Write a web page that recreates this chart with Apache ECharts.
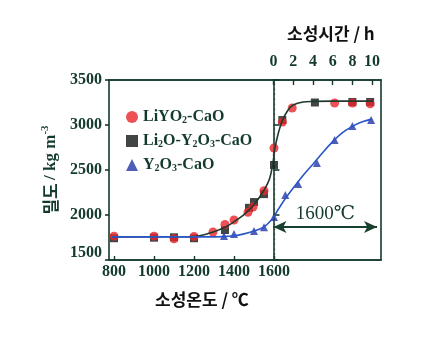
<!DOCTYPE html>
<html>
<head>
<meta charset="utf-8">
<script src="https://cdn.jsdelivr.net/npm/echarts@6/dist/echarts.min.js"></script>
<style>
  html, body { margin: 0; padding: 0; background: #ffffff; }
  #chart { width: 425px; height: 347px; }
</style>
</head>
<body>
<div id="chart"></div>
<script>
// Sintering density: first against temperature (bottom axis, °C),
// then against holding time at 1600 °C (top axis, h).

const tempTicks = [800, 1000, 1200, 1400, 1600];
const hourTicks = [0, 2, 4, 6, 8, 10];
const seriesNames = ['LiYO2-CaO', 'Li2O-Y2O3-CaO', 'Y2O3-CaO'];

// Measured points, temperature part [°C, kg/m3]
const liyoTemp = [[800, 1765], [1000, 1765], [1100, 1735], [1200, 1760], [1295, 1811], [1355, 1895], [1400, 1944], [1470, 2030], [1495, 2089], [1550, 2270], [1600, 2744]];
const li2oTemp = [[800, 1742], [1000, 1748], [1100, 1752], [1200, 1742], [1355, 1833], [1475, 2080], [1500, 2144], [1550, 2232], [1600, 2556]];
const y2o3Temp = [[1350, 1767], [1400, 1790], [1500, 1822], [1550, 1865], [1600, 1978]];

// Measured points, time part at 1600 °C [h, kg/m3]
const liyoHour = [[0.9, 3033], [1.9, 3189], [6.2, 3244], [8.0, 3244], [9.8, 3236]];
const li2oHour = [[0.9, 3055], [4.2, 3250], [8.0, 3256], [9.8, 3256]];
const y2o3Hour = [[1.2, 2222], [2.5, 2344], [4.4, 2578], [6.2, 2833], [8.0, 2989], [9.9, 3055]];

// Fitted trend lines
const fitDarkTemp = [[790, 1757], [1200, 1760], [1300, 1815], [1360, 1870], [1400, 1925], [1450, 2005], [1500, 2115], [1550, 2275], [1580, 2420], [1600, 2660]];
const fitDarkHour = [[0, 2660], [0.4, 2870], [0.9, 3050], [1.5, 3170], [2, 3222], [3, 3256], [4, 3262], [6, 3265], [10.1, 3265]];
const fitBlueTemp = [[790, 1757], [1300, 1757], [1400, 1770], [1450, 1790], [1500, 1822], [1550, 1868], [1600, 1975]];
const fitBlueHour = [[0, 1975], [1, 2150], [2, 2300], [3, 2440], [4, 2565], [5, 2695], [6, 2815], [7, 2915], [8, 2985], [9, 3035], [10, 3068]];

// Arrow marking the 1600 °C hold
const holdArrow = [[0, 1867], [10.5, 1867]];

const ink = '#133a2d';
const red = '#e8262b';
const dark = '#121815';
const blue = '#2236a8';
const serif = '"Liberation Serif", "DejaVu Serif", serif';
const kfont = '"Noto Sans CJK KR", "Noto Sans", sans-serif';

const sub = s => s.replace(/(\d)/g, '{s|$1}');
const plain = v => String(v);

const chart = echarts.init(document.getElementById('chart'), null, { renderer: 'canvas' });

chart.setOption({
  backgroundColor: '#ffffff',
  animation: false,
  grid: {
    left: 109, right: 44, top: 80, bottom: 87,
    show: true, borderColor: ink, borderWidth: 1.6, backgroundColor: 'transparent'
  },
  legend: {
    orient: 'vertical',
    left: 121, top: 104,
    itemWidth: 12, itemHeight: 12, itemGap: 8,
    data: [
      { name: seriesNames[0], icon: 'circle' },
      { name: seriesNames[1], icon: 'rect' },
      { name: seriesNames[2], icon: 'triangle' }
    ],
    formatter: name => sub(name),
    textStyle: {
      fontFamily: serif, fontWeight: 'bold', fontSize: 16, color: ink,
      rich: { s: { fontFamily: serif, fontWeight: 'bold', fontSize: 10, color: ink, padding: [6, 0, 0, 0] } }
    }
  },
  xAxis: [
    {
      type: 'value', position: 'bottom', min: 775, max: 2135,
      axisLine: { show: true, lineStyle: { color: ink, width: 1.6 } },
      axisTick: { show: true, inside: true, length: 4, customValues: tempTicks, lineStyle: { color: ink, width: 1.4 } },
      axisLabel: { customValues: tempTicks, formatter: plain, margin: 4, fontFamily: serif, fontWeight: 'bold', fontSize: 16, color: ink },
      splitLine: { show: false }
    },
    {
      type: 'value', position: 'top', min: -16.67, max: 10.9,
      axisLine: { show: true, lineStyle: { color: ink, width: 1.6 } },
      axisTick: { show: true, inside: true, length: 5, customValues: hourTicks, lineStyle: { color: ink, width: 1.4 } },
      axisLabel: { customValues: hourTicks, formatter: plain, margin: 10, fontFamily: serif, fontWeight: 'bold', fontSize: 16, color: ink },
      splitLine: { show: false }
    }
  ],
  yAxis: [
    {
      type: 'value', min: 1500, max: 3500, interval: 500, position: 'left',
      axisLine: { show: true, lineStyle: { color: ink, width: 1.6 } },
      axisTick: { show: true, inside: true, length: 6, lineStyle: { color: ink, width: 1.6 } },
      axisLabel: {
        margin: 7, fontFamily: serif, fontWeight: 'bold', fontSize: 16, color: ink,
        formatter: v => v === 1500 ? '{lo|1500}' : String(v),
        rich: { lo: { fontFamily: serif, fontWeight: 'bold', fontSize: 16, color: ink, padding: [0, 0, 14, 0] } }
      },
      splitLine: { show: false },
      name: '{k|밀도} {t|/ kg m}{p|-3}',
      nameLocation: 'middle',
      nameGap: 40,
      nameTextStyle: {
        color: ink,
        rich: {
          k: { fontFamily: kfont, fontWeight: 'bold', fontSize: 17, color: ink, lineHeight: 22 },
          t: { fontFamily: serif, fontWeight: 'bold', fontSize: 17, color: ink, lineHeight: 22 },
          p: { fontFamily: serif, fontWeight: 'bold', fontSize: 11, color: ink, verticalAlign: 'top', lineHeight: 22 }
        }
      }
    },
    {
      type: 'value', min: 1500, max: 3500, interval: 500, position: 'left',
      axisLine: { show: false },
      axisTick: { show: true, inside: false, length: 4, lineStyle: { color: ink, width: 1.6 } },
      axisLabel: { show: false },
      splitLine: { show: false }
    }
  ],
  graphic: [
    {
      type: 'text', left: 155, top: 291,
      style: { text: '소성온도 / ℃', fontFamily: kfont, fontWeight: 'bold', fontSize: 17, fill: '#111' }
    },
    {
      type: 'text', left: 287, top: 25,
      style: { text: '소성시간 / h', fontFamily: kfont, fontWeight: 'bold', fontSize: 17, fill: '#111' }
    }
  ],
  series: [
    {
      name: 'fit-dark-temp', type: 'line', xAxisIndex: 0, data: fitDarkTemp,
      smooth: 0.3, showSymbol: false, silent: true,
      lineStyle: { color: '#1f3a2c', width: 1.6 },
      markLine: {
        silent: true, symbol: 'none', label: { show: false },
        lineStyle: { color: '#2c4a3e', type: [1.5, 3.5], width: 1.3 },
        data: [{ xAxis: tempTicks[4] }]
      }
    },
    {
      name: 'fit-dark-hour', type: 'line', xAxisIndex: 1, data: fitDarkHour,
      smooth: 0.3, showSymbol: false, silent: true,
      lineStyle: { color: '#1f3a2c', width: 1.6 }
    },
    {
      name: 'fit-blue-temp', type: 'line', xAxisIndex: 0, data: fitBlueTemp,
      smooth: 0.3, showSymbol: false, silent: true,
      lineStyle: { color: '#2a56c8', width: 1.6 }
    },
    {
      name: 'fit-blue-hour', type: 'line', xAxisIndex: 1, data: fitBlueHour,
      smooth: 0.3, showSymbol: false, silent: true,
      lineStyle: { color: '#2a56c8', width: 1.6 },
      markLine: {
        silent: true,
        symbol: ['arrow', 'arrow'], symbolSize: [9, 13],
        lineStyle: { color: '#17402f', type: 'solid', width: 1.8 },
        label: {
          show: true, position: 'middle', distance: 3, formatter: '1600℃',
          fontFamily: serif, fontSize: 19, color: ink
        },
        data: [[{ coord: holdArrow[0] }, { coord: holdArrow[1] }]]
      }
    },
    {
      name: seriesNames[1], type: 'scatter', xAxisIndex: 0, data: li2oTemp,
      symbol: 'rect', symbolSize: 8, itemStyle: { color: dark }
    },
    {
      name: seriesNames[1], type: 'scatter', xAxisIndex: 1, data: li2oHour,
      symbol: 'rect', symbolSize: 8, itemStyle: { color: dark }
    },
    {
      name: seriesNames[0], type: 'scatter', xAxisIndex: 0, data: liyoTemp,
      symbol: 'circle', symbolSize: 9, itemStyle: { color: red }
    },
    {
      name: seriesNames[0], type: 'scatter', xAxisIndex: 1, data: liyoHour,
      symbol: 'circle', symbolSize: 9, itemStyle: { color: red }
    },
    {
      name: seriesNames[2], type: 'scatter', xAxisIndex: 0, data: y2o3Temp,
      symbol: 'triangle', symbolSize: 8, itemStyle: { color: blue }
    },
    {
      name: seriesNames[2], type: 'scatter', xAxisIndex: 1, data: y2o3Hour,
      symbol: 'triangle', symbolSize: 8, itemStyle: { color: blue }
    }
  ]
});
</script>
</body>
</html>
